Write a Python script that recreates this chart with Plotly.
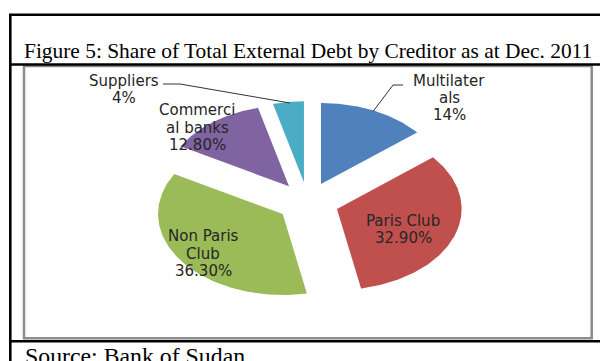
import numpy as np
import plotly.graph_objects as go

# ---------------- data ----------------
creditors = ["Multilaterals", "Paris Club", "Non Paris Club", "Commercial banks", "Suppliers"]
shares = [14.0, 32.9, 36.3, 12.8, 4.0]
label_texts = ["Multilater<br>als<br>14%", "Paris Club<br>32.90%", "Non Paris<br>Club<br>36.30%",
               "Commerci<br>al banks<br>12.80%", "Suppliers<br>4%"]
colors = ["#4F81BD", "#C0504D", "#9BBB59", "#8064A2", "#4BACC6"]
title_text = "Figure 5: Share of Total External Debt by Creditor as at Dec. 2011"
source_text = "Source: Bank of Sudan"

# ---------------- layout geometry (pixels) ----------------
W, H = 600, 361
CX, CY = 307.8, 202.2      # pie centre
RX, RY = 124.7, 81.0       # tilted (elliptical) pie radii
EXPLODE = 0.248            # explosion, fraction of radius

# centre of each label block
label_pos = [(449, 98.0), (403, 229.5), (203, 253.7), (197, 127.7), (124, 89.4)]
LINE_STEP = 17.4


def px(x):
    return x / W


def py(y):
    return 1 - y / H


fig = go.Figure()

total = sum(shares)
start = 0.0
for name, val, col in zip(creditors, shares, colors):
    th0 = start / total * 2 * np.pi
    th1 = (start + val) / total * 2 * np.pi
    mid = (th0 + th1) / 2
    dx, dy = EXPLODE * np.sin(mid), EXPLODE * np.cos(mid)
    t = np.linspace(th0, th1, 120)
    xs = np.concatenate([[dx], dx + np.sin(t), [dx]])
    ys = np.concatenate([[dy], dy + np.cos(t), [dy]])
    fig.add_trace(go.Scatter(x=xs, y=ys, mode="lines", fill="toself", fillcolor=col,
                             line=dict(width=0, color=col), name=name,
                             hoverinfo="text", text=f"{name}: {val}%", showlegend=False))
    start += val

# ---------------- labels ----------------
annotations = []
for txt, (lx, ly) in zip(label_texts, label_pos):
    lines = txt.split("<br>")
    y0 = ly - (len(lines) - 1) * LINE_STEP / 2
    for i, line in enumerate(lines):
        annotations.append(dict(x=px(lx), y=py(y0 + i * LINE_STEP), xref="paper", yref="paper",
                                text=line, showarrow=False, xanchor="center", yanchor="middle",
                                font=dict(family="DejaVu Sans", size=15, color="#262626")))

annotations.append(dict(x=px(22), y=py(50.9), xref="paper", yref="paper", text=title_text,
                        showarrow=False, xanchor="left", yanchor="middle",
                        font=dict(family="Liberation Serif", size=21.4, color="#000000")))
annotations.append(dict(x=px(23), y=py(355.5), xref="paper", yref="paper", text=source_text,
                        showarrow=False, xanchor="left", yanchor="middle",
                        font=dict(family="Liberation Serif", size=23.8, color="#000000")))

# ---------------- frame / leader lines ----------------
shapes = []
# grey chart-area box
shapes.append(dict(type="rect", xref="paper", yref="paper", x0=px(24), x1=px(591.7),
                   y0=py(338.3), y1=py(66), line=dict(color="#8c8c8c", width=2.5),
                   fillcolor="rgba(0,0,0,0)", layer="above"))
# black table rules
for (x0, y0, x1, y1) in [(9, 14.7, 600, 14.7), (10.3, 14, 10.3, 361),
                         (9, 64.5, 600, 64.5), (9, 341.3, 600, 341.3)]:
    shapes.append(dict(type="line", xref="paper", yref="paper", x0=px(x0), y0=py(y0),
                       x1=px(x1), y1=py(y1), line=dict(color="#000000", width=2.6), layer="above"))


def path(points):
    return "M " + " L ".join(f"{px(x):.5f},{py(y):.5f}" for x, y in points)


for pts in [[(163, 84), (180, 84), (290, 103)], [(403, 85), (393, 85), (373, 111.5)]]:
    shapes.append(dict(type="path", xref="paper", yref="paper", path=path(pts),
                       line=dict(color="#333333", width=1), layer="above"))

fig.update_layout(
    width=W, height=H, autosize=False,
    margin=dict(l=0, r=0, t=0, b=0, pad=0),
    paper_bgcolor="white", plot_bgcolor="white",
    xaxis=dict(range=[(0 - CX) / RX, (W - CX) / RX], visible=False, fixedrange=True),
    yaxis=dict(range=[-(H - CY) / RY, CY / RY], visible=False, fixedrange=True),
    annotations=annotations, shapes=shapes, showlegend=False,
)

fig.write_html("out.html")
